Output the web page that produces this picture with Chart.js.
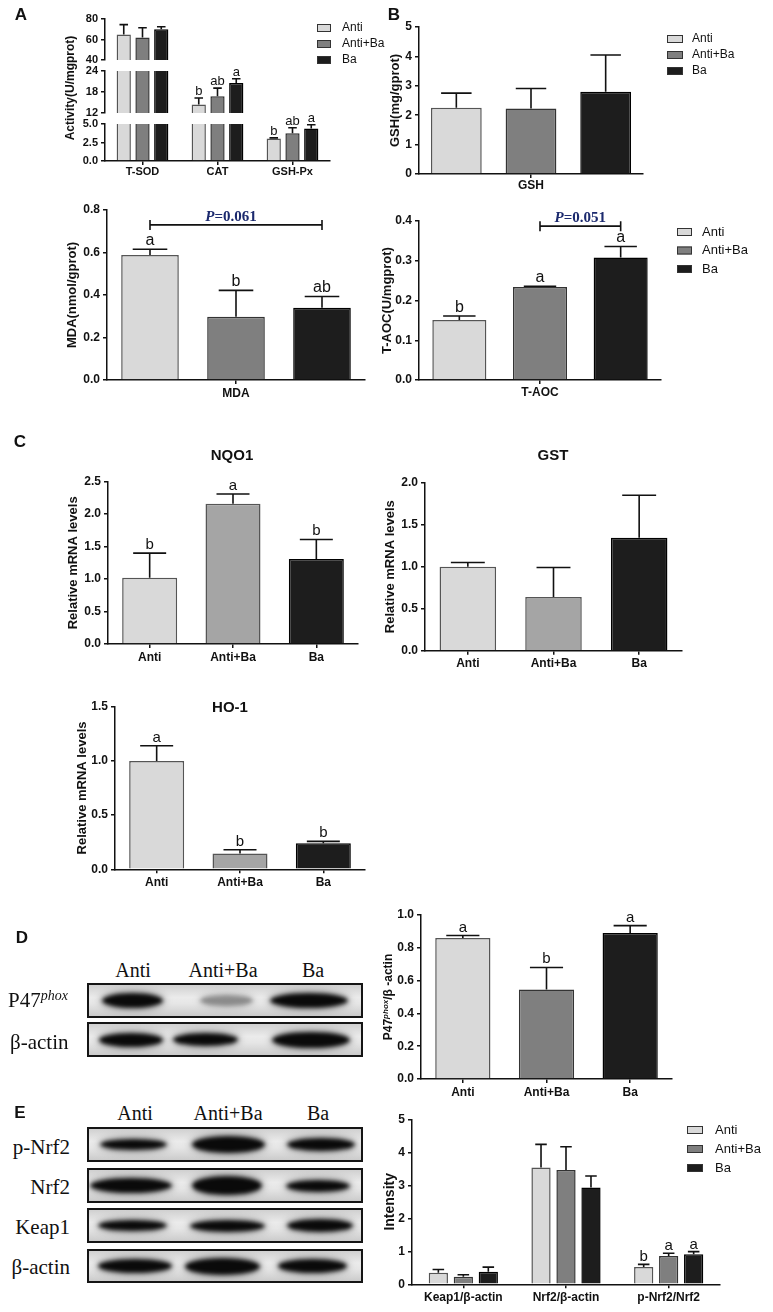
<!DOCTYPE html>
<html><head><meta charset="utf-8">
<script src="https://cdn.jsdelivr.net/npm/chart.js@4.4.1/dist/chart.umd.min.js"></script>
<style>
html,body{margin:0;padding:0;background:#fff;overflow:hidden;}
#fig{position:relative;width:773px;height:1312px;overflow:hidden;background:#fff;}
</style></head>
<body><div id="fig"></div>
<script>
// ---------------- DATA ----------------
const groupLabels = ['Anti', 'Anti+Ba', 'Ba'];

// Panel A (broken axis)
const enzymeCats = ['T-SOD', 'CAT', 'GSH-Px'];
const enzymeAnti = [65, 14.4, 3.05];
const enzymeAntiErr = [9.5, 1.9, 0.07];
const enzymeAntiLetters = ['', 'b', 'b'];
const enzymeAntiBa = [62, 16.8, 3.75];
const enzymeAntiBaErr = [9.5, 2.3, 0.75];
const enzymeAntiBaLetters = ['', 'ab', 'ab'];
const enzymeBa = [70, 20.6, 4.4];
const enzymeBaErr = [2.5, 1.2, 0.5];
const enzymeBaLetters = ['', 'a', 'a'];
const enzymeTopTicks = [40, 80, 20];
const enzymeMidTicks = [12, 24, 6];
const enzymeLowTicks = [0, 5, 2.5];

// Panel B (GSH)
const gshCats = ['GSH'];
const gshValues = [2.25, 2.23, 2.8];
const gshErr = [0.5, 0.68, 1.25];
const gshTicks = [0, 5, 1];

// MDA
const mdaCats = ['MDA'];
const mdaValues = [0.588, 0.298, 0.34];
const mdaErr = [0.027, 0.124, 0.053];
const mdaLetters = ['a', 'b', 'ab'];
const mdaTicks = [0, 0.8, 0.2];
const mdaP = { text: '=0.061', level: 0.73 };

// T-AOC
const taocCats = ['T-AOC'];
const taocValues = [0.151, 0.234, 0.308];
const taocErr = [0.01, 0.002, 0.028];
const taocLetters = ['b', 'a', 'a'];
const taocTicks = [0, 0.4, 0.1];
const taocP = { text: '=0.051', level: 0.387 };

// Panel C
const nqo1Values = [1.02, 2.16, 1.31];
const nqo1Err = [0.38, 0.15, 0.30];
const nqo1Letters = ['b', 'a', 'b'];
const nqo1Ticks = [0, 2.5, 0.5];

const gstValues = [1.0, 0.64, 1.345];
const gstErr = [0.05, 0.35, 0.505];
const gstTicks = [0, 2, 0.5];

const ho1Values = [1.0, 0.145, 0.24];
const ho1Err = [0.14, 0.035, 0.018];
const ho1Letters = ['a', 'b', 'b'];
const ho1Ticks = [0, 1.5, 0.5];

// Panel D
const p47Values = [0.86, 0.545, 0.89];
const p47Err = [0.015, 0.135, 0.045];
const p47Letters = ['a', 'b', 'a'];
const p47Ticks = [0, 1, 0.2];

// Panel E
const intensityCats = ['Keap1/β-actin', 'Nrf2/β-actin', 'p-Nrf2/Nrf2'];
const intensityAnti = [0.35, 3.54, 0.525];
const intensityAntiErr = [0.10, 0.70, 0.08];
const intensityAntiBa = [0.23, 3.46, 0.86];
const intensityAntiBaErr = [0.06, 0.71, 0.08];
const intensityBa = [0.38, 2.93, 0.91];
const intensityBaErr = [0.14, 0.35, 0.08];
const intensityLetters = [['', '', 'b'], ['', '', 'a'], ['', '', 'a']];
const intensityTicks = [0, 5, 1];

// ---------------- STYLE ----------------
const F = '"Liberation Sans", Arial, Helvetica, sans-serif';
const SERIF = '"Liberation Serif", "Times New Roman", serif';
const COL = {
  anti: '#d9d9d9', antiLine: '#555',
  mix: '#7f7f7f', mixLine: '#333',
  mixLight: '#a5a5a5', mixLightLine: '#555',
  ba: '#1d1d1d', baLine: '#000'
};
Chart.defaults.font.family = F;
Chart.defaults.color = '#111';

const fig = document.getElementById('fig');

// ---------------- PLUGIN ----------------
const anno = {
  id: 'anno',
  afterDatasetsDraw(chart) {
    const a = chart.canvas._anno; if (!a) return;
    const ctx = chart.ctx, ys = chart.scales.y;
    const ox = a.ox, oy = a.oy;
    ctx.save();
    chart.data.datasets.forEach((ds, i) => {
      if (!ds.errors) return;
      const meta = chart.getDatasetMeta(i);
      meta.data.forEach((bar, j) => {
        const v = ds.data[j], e = ds.errors[j];
        if (v == null || v < ys.min || v > ys.max) return;
        const yV = ys.getPixelForValue(v), yT = ys.getPixelForValue(v + e);
        const half = bar.width * (a.cap || 0.6) / 2;
        ctx.strokeStyle = '#111'; ctx.lineWidth = 1.6; ctx.lineCap = 'butt';
        ctx.beginPath();
        ctx.moveTo(bar.x, yV); ctx.lineTo(bar.x, yT);
        ctx.moveTo(bar.x - half, yT); ctx.lineTo(bar.x + half, yT);
        ctx.stroke();
        const L = ds.letters && ds.letters[j];
        if (L) {
          ctx.fillStyle = '#111'; ctx.font = a.letterFont || ('15px ' + F);
          ctx.textAlign = 'center'; ctx.textBaseline = 'alphabetic';
          ctx.fillText(L, bar.x, yT - (a.letterGap == null ? 4 : a.letterGap));
        }
      });
    });
    if (a.bracket) {
      const b = a.bracket;
      const m1 = chart.getDatasetMeta(b.from[0]).data[b.from[1]];
      const m2 = chart.getDatasetMeta(b.to[0]).data[b.to[1]];
      const y = ys.getPixelForValue(b.value);
      ctx.strokeStyle = '#111'; ctx.lineWidth = 1.6;
      ctx.beginPath();
      ctx.moveTo(m1.x, y); ctx.lineTo(m2.x, y);
      ctx.moveTo(m1.x, y - 5); ctx.lineTo(m1.x, y + 5);
      ctx.moveTo(m2.x, y - 5); ctx.lineTo(m2.x, y + 5);
      ctx.stroke();
      const f1 = 'italic bold 15px ' + SERIF, f2 = 'bold 15px ' + SERIF;
      ctx.font = f1; const w1 = ctx.measureText('P').width;
      ctx.font = f2; const w2 = ctx.measureText(b.text).width;
      const cx = (m1.x + m2.x) / 2 + (b.dx || 0);
      const x0 = cx - (w1 + w2) / 2, ty = y - 4;
      ctx.fillStyle = '#1c2a6e'; ctx.textAlign = 'left'; ctx.textBaseline = 'alphabetic';
      ctx.font = f1; ctx.fillText('P', x0, ty);
      ctx.font = f2; ctx.fillText(b.text, x0 + w1, ty);
    }
    if (a.legend) {
      const L = a.legend;
      chart.data.datasets.forEach((ds, i) => {
        const cy = L.y + i * L.dy - oy;
        const bx = L.x - ox;
        ctx.fillStyle = ds.backgroundColor;
        ctx.fillRect(bx, cy - L.bh / 2, L.bw, L.bh);
        ctx.strokeStyle = '#333'; ctx.lineWidth = 1;
        ctx.strokeRect(bx + 0.5, cy - L.bh / 2 + 0.5, L.bw - 1, L.bh - 1);
        ctx.fillStyle = '#111'; ctx.font = L.size + 'px ' + F;
        ctx.textAlign = 'left'; ctx.textBaseline = 'middle';
        ctx.fillText(ds.label, L.tx - ox, cy);
      });
    }
    if (a.title) {
      const T = a.title;
      ctx.fillStyle = '#111'; ctx.font = 'bold ' + T.size + 'px ' + F;
      ctx.textAlign = 'center'; ctx.textBaseline = 'middle';
      ctx.fillText(T.text, T.x - ox, T.y - oy);
    }
    if (a.ytitle) {
      const T = a.ytitle;
      ctx.save();
      ctx.translate(T.x - ox, T.y - oy); ctx.rotate(-Math.PI / 2);
      let tot = 0;
      const ws = T.parts.map(p => { ctx.font = p.font; const w = ctx.measureText(p.text).width; tot += w; return w; });
      let x = -tot / 2;
      ctx.fillStyle = '#111'; ctx.textBaseline = 'middle'; ctx.textAlign = 'left';
      T.parts.forEach((p, k) => { ctx.font = p.font; ctx.fillText(p.text, x, p.dy || 0); x += ws[k]; });
      ctx.restore();
    }
    ctx.restore();
  }
};

// ---------------- HELPERS ----------------
function makeChart(p) {
  const [bl, bt, bw, bh] = p.box;
  const cv = document.createElement('canvas');
  cv.width = bw; cv.height = bh;
  cv.style.cssText = `position:absolute;left:${bl}px;top:${bt}px;width:${bw}px;height:${bh}px;`;
  fig.appendChild(cv);
  const tSize = p.yTitleSize || 13;
  const lh = tSize * 1.2;
  const scaleLeftAbs = p.yTitle ? p.yTitleX - lh / 2 : bl;
  const padL = scaleLeftAbs - bl;
  const YW = p.axisX - scaleLeftAbs;
  const XH = p.showX ? (p.xh || 22) : 0;
  const padT = p.plotTop - bt;
  const padB = bt + bh - p.plotBottom - XH;
  const padR = bl + bw - p.plotRight;
  const xFont = p.xFontSize || 12;
  const xPad = p.showX ? Math.max(0, p.xLabelY - p.plotBottom - 4 - xFont * 1.2 / 2) : 0;
  const [ymin, ymax, ystep] = p.ticks;
  const dec = p.dec || 0;
  cv._anno = Object.assign({ ox: bl, oy: bt }, p.anno || {});
  new Chart(cv, {
    type: 'bar',
    data: {
      labels: p.cats,
      datasets: p.datasets.map(d => Object.assign({
        clip: 0, borderWidth: 1.5,
        categoryPercentage: p.catPct, barPercentage: p.barPct
      }, d))
    },
    options: {
      responsive: false, animation: false,
      layout: { padding: { left: padL, right: padR, top: padT, bottom: padB } },
      plugins: { legend: { display: false }, tooltip: { enabled: false } },
      scales: {
        x: {
          display: !!p.showX, offset: true,
          grid: { display: true, drawOnChartArea: false, drawTicks: true, tickLength: 4, color: '#111', lineWidth: 1.5, offset: false },
          border: { display: true, color: '#111', width: 1.5 },
          ticks: { font: { size: xFont, weight: 'bold' }, color: '#111', padding: xPad, maxRotation: 0, autoSkip: false },
          afterFit: s => { s.height = XH; }
        },
        y: {
          min: ymin, max: ymax,
          ticks: { stepSize: ystep, callback: v => Number(v).toFixed(dec), font: { size: p.tickSize || 12, weight: 'bold' }, color: '#111', padding: 3 },
          grid: { display: true, drawOnChartArea: false, drawTicks: true, tickLength: 4, color: '#111', lineWidth: 1.5 },
          border: { display: true, color: '#111', width: 1.5 },
          title: { display: !!p.yTitle, text: p.yTitle || '', font: { size: tSize, weight: 'bold' }, color: '#111', padding: 0 },
          afterFit: s => { s.width = YW; }
        }
      }
    },
    plugins: [anno]
  });
}

function grouped(aV, aE, aL, mV, mE, mL, bV, bE, bL, mixCol, mixLine) {
  return [
    { label: groupLabels[0], data: aV, errors: aE, letters: aL, backgroundColor: COL.anti, borderColor: COL.antiLine },
    { label: groupLabels[1], data: mV, errors: mE, letters: mL, backgroundColor: mixCol || COL.mix, borderColor: mixLine || COL.mixLine },
    { label: groupLabels[2], data: bV, errors: bE, letters: bL, backgroundColor: COL.ba, borderColor: COL.baLine }
  ];
}
function single(vals, errs, lets, mixCol, mixLine) {
  return [{
    label: 'value', data: vals, errors: errs, letters: lets,
    backgroundColor: [COL.anti, mixCol, COL.ba],
    borderColor: [COL.antiLine, mixLine, COL.baLine]
  }];
}
function txt(html, x, y, css, anchor) {
  const d = document.createElement('div');
  d.innerHTML = html;
  d.style.cssText = `position:absolute;left:${x}px;top:${y}px;line-height:1;white-space:nowrap;color:#111;${css}`;
  d.style.transform = anchor === 'c' ? 'translate(-50%,-50%)' : anchor === 'r' ? 'translate(-100%,-50%)' : 'translate(0,-50%)';
  fig.appendChild(d);
}
function blot(left, top, w, h, bands) {
  const b = document.createElement('div');
  b.style.cssText = `position:absolute;left:${left}px;top:${top}px;width:${w}px;height:${h}px;box-sizing:border-box;border:2px solid #151515;background:linear-gradient(180deg,#d0d0d0 0%,#ebebeb 40%,#e6e6e6 60%,#cbcbcb 100%);overflow:hidden;`;
  bands.forEach(([x0, x1, th, op]) => {
    const t = th + 3;
    const d = document.createElement('div');
    d.style.cssText = `position:absolute;left:${x0 - left - 2}px;top:${(h - t) / 2 - 2}px;width:${x1 - x0}px;height:${t}px;border-radius:48% / 50%;background:rgba(10,10,10,${op});filter:blur(2px);box-shadow:0 0 6px 2px rgba(0,0,0,${0.3 * op});`;
    b.appendChild(d);
  });
  fig.appendChild(b);
}

// ---------------- PANEL A ----------------
const enzymeSets = () => grouped(enzymeAnti, enzymeAntiErr, enzymeAntiLetters,
  enzymeAntiBa, enzymeAntiBaErr, enzymeAntiBaLetters, enzymeBa, enzymeBaErr, enzymeBaLetters);
const aCommon = { axisX: 105, plotRight: 330, cats: enzymeCats, catPct: 0.75, barPct: 0.76, tickSize: 11 };
makeChart(Object.assign({}, aCommon, {
  box: [0, 0, 390, 72], plotTop: 19, plotBottom: 60, ticks: enzymeTopTicks, dec: 0,
  datasets: enzymeSets(),
  anno: { letterFont: '13px ' + F, letterGap: 3, legend: { x: 317, y: 28, dy: 16, bw: 14, bh: 8, tx: 342, size: 12 } }
}));
makeChart(Object.assign({}, aCommon, {
  box: [0, 20, 390, 150], plotTop: 71, plotBottom: 113, ticks: enzymeMidTicks, dec: 0,
  datasets: enzymeSets(),
  anno: { letterFont: '13px ' + F, letterGap: 3, ytitle: { x: 71, y: 88, parts: [{ text: 'Activity(U/mgprot)', font: 'bold 12px ' + F }] } }
}));
makeChart(Object.assign({}, aCommon, {
  box: [0, 110, 390, 80], plotTop: 124, plotBottom: 161, ticks: enzymeLowTicks, dec: 1,
  showX: true, xh: 20, xLabelY: 170, xFontSize: 11,
  datasets: enzymeSets(),
  anno: { letterFont: '13px ' + F, letterGap: 3 }
}));

// ---------------- PANEL B (GSH) ----------------
makeChart({
  box: [380, 0, 393, 195], axisX: 419, plotRight: 643, plotTop: 27, plotBottom: 174,
  showX: true, xh: 20, xLabelY: 185, ticks: gshTicks, dec: 0,
  yTitle: 'GSH(mg/gprot)', yTitleX: 395, cats: gshCats, catPct: 1, barPct: 0.68,
  datasets: grouped([gshValues[0]], [gshErr[0]], null, [gshValues[1]], [gshErr[1]], null, [gshValues[2]], [gshErr[2]], null),
  anno: { legend: { x: 667, y: 39, dy: 16, bw: 16, bh: 8, tx: 692, size: 12 } }
});

// ---------------- MDA ----------------
makeChart({
  box: [0, 195, 390, 215], axisX: 107, plotRight: 365, plotTop: 210, plotBottom: 380,
  showX: true, xh: 22, xLabelY: 394, ticks: mdaTicks, dec: 1,
  yTitle: 'MDA(nmol/gprot)', yTitleX: 72, cats: mdaCats, catPct: 1, barPct: 0.67,
  datasets: grouped([mdaValues[0]], [mdaErr[0]], [mdaLetters[0]], [mdaValues[1]], [mdaErr[1]], [mdaLetters[1]], [mdaValues[2]], [mdaErr[2]], [mdaLetters[2]]),
  anno: { letterFont: '16px ' + F, letterGap: 4, bracket: { from: [0, 0], to: [2, 0], value: mdaP.level, text: mdaP.text, dx: -5 } }
});

// ---------------- T-AOC ----------------
makeChart({
  box: [370, 195, 403, 215], axisX: 419, plotRight: 661, plotTop: 221, plotBottom: 380,
  showX: true, xh: 22, xLabelY: 393, ticks: taocTicks, dec: 1,
  yTitle: 'T-AOC(U/mgprot)', yTitleX: 387, cats: taocCats, catPct: 1, barPct: 0.67,
  datasets: grouped([taocValues[0]], [taocErr[0]], [taocLetters[0]], [taocValues[1]], [taocErr[1]], [taocLetters[1]], [taocValues[2]], [taocErr[2]], [taocLetters[2]]),
  anno: { letterFont: '16px ' + F, letterGap: 4, bracket: { from: [1, 0], to: [2, 0], value: taocP.level, text: taocP.text },
    legend: { x: 677, y: 232, dy: 18.5, bw: 15, bh: 8, tx: 702, size: 13 } }
});

// ---------------- PANEL C ----------------
makeChart({
  box: [0, 430, 390, 250], axisX: 108, plotRight: 358, plotTop: 481.7, plotBottom: 644,
  showX: true, xh: 24, xLabelY: 658, ticks: nqo1Ticks, dec: 1,
  yTitle: 'Relative mRNA levels', yTitleX: 73, cats: groupLabels, catPct: 1, barPct: 0.66,
  datasets: single(nqo1Values, nqo1Err, nqo1Letters, COL.mixLight, COL.mixLightLine),
  anno: { letterFont: '15px ' + F, letterGap: 4, title: { text: 'NQO1', x: 232, y: 456, size: 15 } }
});
makeChart({
  box: [380, 430, 393, 250], axisX: 425, plotRight: 682, plotTop: 482.7, plotBottom: 650.7,
  showX: true, xh: 24, xLabelY: 664, ticks: gstTicks, dec: 1,
  yTitle: 'Relative mRNA levels', yTitleX: 390, cats: groupLabels, catPct: 1, barPct: 0.66,
  datasets: single(gstValues, gstErr, null, COL.mixLight, COL.mixLightLine),
  anno: { title: { text: 'GST', x: 553, y: 456, size: 15 } }
});
makeChart({
  box: [0, 690, 390, 210], axisX: 115, plotRight: 365, plotTop: 706.7, plotBottom: 869.3,
  showX: true, xh: 24, xLabelY: 883, ticks: ho1Ticks, dec: 1,
  yTitle: 'Relative mRNA levels', yTitleX: 82, cats: groupLabels, catPct: 1, barPct: 0.66,
  datasets: single(ho1Values, ho1Err, ho1Letters, COL.mixLight, COL.mixLightLine),
  anno: { letterFont: '15px ' + F, letterGap: 4, title: { text: 'HO-1', x: 230, y: 708, size: 15 } }
});

// ---------------- PANEL D chart ----------------
makeChart({
  box: [370, 895, 403, 210], axisX: 421, plotRight: 672, plotTop: 915, plotBottom: 1079,
  showX: true, xh: 22, xLabelY: 1093, ticks: p47Ticks, dec: 1,
  cats: groupLabels, catPct: 1, barPct: 0.66,
  datasets: single(p47Values, p47Err, p47Letters, COL.mix, COL.mixLine),
  anno: { letterFont: '15px ' + F, letterGap: 4,
    ytitle: { x: 389, y: 997, parts: [
      { text: 'P47', font: 'bold 12px ' + F },
      { text: 'phox', font: 'italic bold 8px ' + F, dy: -3 },
      { text: '/β -actin', font: 'bold 12px ' + F }
    ] } }
});

// ---------------- PANEL E chart ----------------
makeChart({
  box: [370, 1105, 403, 207], axisX: 412, plotRight: 720, plotTop: 1119.3, plotBottom: 1284.3,
  showX: true, xh: 22, xLabelY: 1298, ticks: intensityTicks, dec: 0,
  yTitle: 'Intensity', yTitleX: 390, yTitleSize: 14, cats: intensityCats, catPct: 0.73, barPct: 0.77,
  datasets: grouped(intensityAnti, intensityAntiErr, intensityLetters[0], intensityAntiBa, intensityAntiBaErr, intensityLetters[1], intensityBa, intensityBaErr, intensityLetters[2]),
  anno: { letterFont: '15px ' + F, letterGap: 3, legend: { x: 687, y: 1130, dy: 19, bw: 16, bh: 8, tx: 715, size: 13 } }
});

// ---------------- PANEL LETTERS ----------------
const PL = `font:bold 17px ${F};`;
txt('A', 21, 15, PL, 'c');
txt('B', 394, 15, PL, 'c');
txt('C', 20, 442, PL, 'c');
txt('D', 22, 938, PL, 'c');
txt('E', 20, 1113, PL, 'c');

// ---------------- WESTERN BLOTS (decorative images) ----------------
const BL = `font:20px ${SERIF};`;
txt('Anti', 133, 970, BL, 'c');
txt('Anti+Ba', 223, 970, BL, 'c');
txt('Ba', 313, 970, BL, 'c');
txt('P47<span style="font-style:italic;font-size:14px;position:relative;top:-7px">phox</span>', 8, 1000, `font:21px ${SERIF};`, 'l');
txt('β-actin', 10, 1042, `font:21px ${SERIF};`, 'l');
blot(87, 983, 276, 35, [[102, 163, 12, 1], [200, 253, 8, 0.42], [270, 348, 12, 1]]);
blot(87, 1022, 276, 35, [[99, 163, 11, 1], [173, 238, 10, 1], [272, 350, 13, 1]]);

txt('Anti', 135, 1113, BL, 'c');
txt('Anti+Ba', 228, 1113, BL, 'c');
txt('Ba', 318, 1113, BL, 'c');
const EL = `font:21px ${SERIF};`;
txt('p-Nrf2', 70, 1147, EL, 'r');
txt('Nrf2', 70, 1187, EL, 'r');
txt('Keap1', 70, 1227, EL, 'r');
txt('β-actin', 70, 1267, EL, 'r');
blot(87, 1127, 276, 35, [[100, 167, 8, 1], [192, 265, 14, 1], [287, 355, 10, 1]]);
blot(87, 1168, 276, 35, [[90, 172, 12, 1], [192, 262, 16, 1], [286, 350, 9, 1]]);
blot(87, 1208, 276, 35, [[98, 167, 8, 1], [190, 265, 9, 1], [287, 353, 10, 1]]);
blot(87, 1249, 276, 34, [[98, 172, 11, 1], [185, 260, 14, 1], [278, 347, 11, 1]]);
</script>
</body></html>
